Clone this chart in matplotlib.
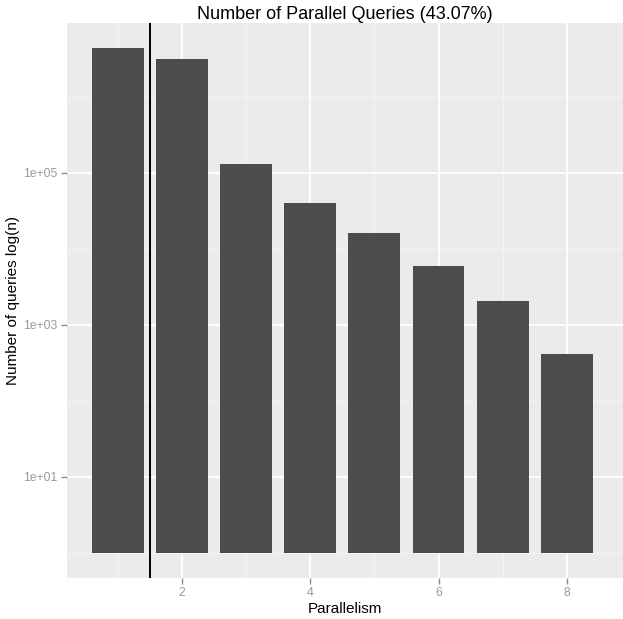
import numpy as np
import matplotlib
matplotlib.use("Agg")
import matplotlib.pyplot as plt
from matplotlib.ticker import FixedLocator, NullFormatter

plt.rcParams['font.family'] = ['Liberation Sans', 'DejaVu Sans']

# Query counts per parallelism level
parallelism = [1, 2, 3, 4, 5, 6, 7, 8]
queries = [4.4e6, 3.16e6, 1.31e5, 4.03e4, 1.62e4, 5.97e3, 2.07e3, 4.15e2]
threshold = 1.5
y_ticks = [1e1, 1e3, 1e5]
y_tick_labels = ["1e+01", "1e+03", "1e+05"]
y_minor = [1e0, 1e2, 1e4, 1e6]
x_ticks = [2, 4, 6, 8]
x_minor = [1, 3, 5, 7]

W, H = 623, 619
fig = plt.figure(figsize=(W / 100, H / 100), dpi=100)
left, right, top, bottom = 67, 623, 22.7, 577.7
ax = fig.add_axes([left / W, (H - bottom) / H, (right - left) / W, (bottom - top) / H])
ax.set_facecolor('#EBEBEB')

ax.set_yscale('log')
ax.set_xlim(0.2044, 8.878)
ax.set_ylim(10 ** -0.329, 10 ** 6.978)

# grid
for v in y_minor:
    ax.axhline(v, color='#F5F5F5', lw=0.7, zorder=0)
for v in x_minor:
    ax.axvline(v, color='#F5F5F5', lw=0.7, zorder=0)
for v in y_ticks:
    ax.axhline(v, color='white', lw=1.3, zorder=0)
for v in x_ticks:
    ax.axvline(v, color='white', lw=1.3, zorder=0)

vals = np.array(queries)
ax.bar(parallelism, vals - 1, bottom=1, width=0.81, color='#4C4C4A', zorder=2)
ax.axvline(threshold, color='black', lw=1.4, zorder=3)

for s in ax.spines.values():
    s.set_visible(False)

ax.yaxis.set_major_locator(FixedLocator(y_ticks))
ax.set_yticklabels(y_tick_labels)
ax.yaxis.set_minor_formatter(NullFormatter())
ax.yaxis.set_minor_locator(FixedLocator([]))
ax.set_xticks(x_ticks)
ax.set_xticklabels([str(v) for v in x_ticks])
ax.tick_params(axis='both', which='major', length=4, width=1, color='#8C8C8C',
               labelcolor='#999999', labelsize=8.8, pad=3)

ax.set_xlabel('Parallelism', fontsize=11, labelpad=2)
ax.set_ylabel('Number of queries log(n)', fontsize=11)
ax.yaxis.set_label_coords((20 - left) / (right - left), 0.5)
ax.set_title('Number of Parallel Queries (43.07%)', fontsize=13, pad=3)

fig.savefig('out.png', dpi=100)
